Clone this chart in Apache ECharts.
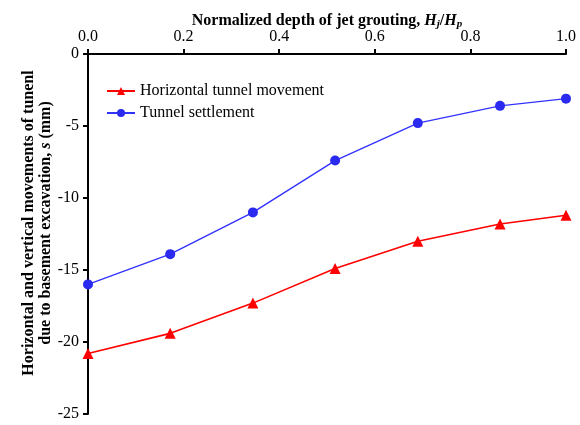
<!DOCTYPE html>
<html>
<head>
<meta charset="utf-8">
<style>
  html, body { margin: 0; padding: 0; background: #fff; }
  #chart { width: 580px; height: 425px; }
</style>
<script src="https://cdn.jsdelivr.net/npm/echarts@6/dist/echarts.min.js"></script>
</head>
<body>
<div id="chart"></div>
<script>
// Normalized jet grouting depth Hj/Hp
var depthRatio = [0, 0.172, 0.345, 0.517, 0.690, 0.862, 1.0];
// Horizontal tunnel movement (mm)
var horizontalMovement = [-20.8, -19.4, -17.3, -14.9, -13.0, -11.8, -11.2];
// Tunnel settlement (mm)
var settlement = [-16.0, -13.9, -11.0, -7.4, -4.8, -3.6, -3.1];

var seriesNames = ['Horizontal tunnel movement', 'Tunnel settlement'];

var font = '"Liberation Serif", "Times New Roman", serif';

function pairs(xs, ys) {
  return xs.map(function (x, i) { return [x, ys[i]]; });
}

var chart = echarts.init(document.getElementById('chart'), null, { renderer: 'canvas' });

chart.setOption({
  animation: false,
  backgroundColor: '#ffffff',
  grid: { left: 88, right: 14, top: 54, bottom: 11, outerBoundsMode: 'none', containLabel: false },
  legend: {
    left: 106,
    top: 83,
    padding: 0,
    orient: 'vertical',
    itemWidth: 28,
    itemHeight: 10,
    itemGap: 6,
    textStyle: { fontFamily: font, fontSize: 16, color: '#000' },
    data: seriesNames
  },
  xAxis: {
    type: 'value',
    position: 'top',
    min: 0,
    max: 1,
    interval: 0.2,
    name: '{b|Normalized depth of jet grouting, }{bi|H}{sub|j}{b|/}{bi|H}{sub|p}',
    nameLocation: 'middle',
    nameGap: 24,
    nameMoveOverlap: false,
    nameTextStyle: {
      rich: {
        b: { fontFamily: font, fontSize: 16, fontWeight: 'bold', color: '#000' },
        bi: { fontFamily: font, fontSize: 16, fontWeight: 'bold', fontStyle: 'italic', color: '#000' },
        sub: { fontFamily: font, fontSize: 11, fontWeight: 'bold', fontStyle: 'italic', color: '#000', verticalAlign: 'bottom', padding: [7, 0, 0, 0] }
      }
    },
    axisLine: { show: true, lineStyle: { color: '#000', width: 2 } },
    axisTick: { show: true, inside: false, length: 5, lineStyle: { color: '#000', width: 2 } },
    axisLabel: {
      fontFamily: font, fontSize: 16, color: '#000', margin: 9,
      formatter: function (v) { return v.toFixed(1); }
    },
    splitLine: { show: false }
  },
  yAxis: {
    type: 'value',
    min: -25,
    max: 0,
    interval: 5,
    name: '{b|Horizontal and vertical movements of tunenl}\n{b|due to basement excavation, }{bi|s}{b| (mm)}',
    nameLocation: 'middle',
    nameRotate: 90,
    nameGap: 34,
    nameMoveOverlap: false,
    nameTextStyle: {
      lineHeight: 17,
      padding: [0, 0, 0, 22],
      rich: {
        b: { fontFamily: font, fontSize: 16, fontWeight: 'bold', color: '#000', lineHeight: 17 },
        bi: { fontFamily: font, fontSize: 16, fontWeight: 'bold', fontStyle: 'italic', color: '#000', lineHeight: 17 }
      }
    },
    axisLine: { show: true, lineStyle: { color: '#000', width: 2 } },
    axisTick: { show: true, inside: false, length: 5, lineStyle: { color: '#000', width: 2 } },
    axisLabel: { fontFamily: font, fontSize: 16, color: '#000', margin: 9 },
    splitLine: { show: false }
  },
  series: [
    {
      name: seriesNames[0],
      type: 'line',
      data: pairs(depthRatio, horizontalMovement),
      symbol: 'triangle',
      symbolSize: 11,
      lineStyle: { color: '#ff0000', width: 1.6 },
      itemStyle: { color: '#ff0000' },
      z: 3
    },
    {
      name: seriesNames[1],
      type: 'line',
      data: pairs(depthRatio, settlement),
      symbol: 'circle',
      symbolSize: 10,
      lineStyle: { color: '#3333ff', width: 1.4 },
      itemStyle: { color: '#2a2af0' },
      z: 3
    }
  ]
});
</script>
</body>
</html>
